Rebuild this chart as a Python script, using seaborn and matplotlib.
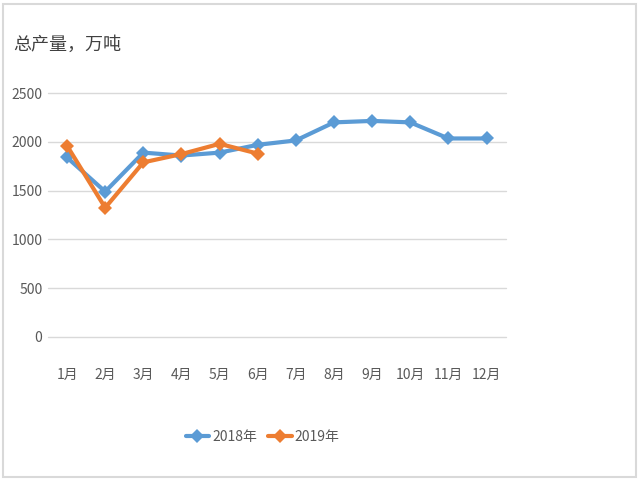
import pandas as pd
import matplotlib.pyplot as plt
import seaborn as sns

# data
months = ['1月', '2月', '3月', '4月', '5月', '6月', '7月', '8月', '9月', '10月', '11月', '12月']
output_2018 = [1840, 1490, 1890, 1860, 1890, 1970, 2015, 2200, 2215, 2200, 2035, 2035]
output_2019 = [1960, 1325, 1790, 1875, 1980, 1880]
yticks = [0, 500, 1000, 1500, 2000, 2500]

df = pd.concat([
    pd.DataFrame({'月份': months, '产量': output_2018, '年份': '2018年'}),
    pd.DataFrame({'月份': months[:len(output_2019)], '产量': output_2019, '年份': '2019年'}),
])
df['x'] = df['月份'].map({m: i for i, m in enumerate(months)})

sns.set_style('white')
plt.rcParams['font.family'] = ['Noto Sans CJK SC', 'DejaVu Sans']

fig = plt.figure(figsize=(6.4, 4.8), dpi=100)
ax = fig.add_axes([0.075, 0.298, 0.715, 0.508])

palette = {'2018年': '#5B9BD5', '2019年': '#ED7D31'}
sns.lineplot(data=df, x='x', y='产量', hue='年份', palette=palette, marker='D',
             markersize=7, markeredgewidth=0, linewidth=3, ax=ax, legend=True, sort=False)

ax.set_xlim(-0.5, 11.5)
ax.set_ylim(0, 2500)
ax.set_xticks(range(len(months)))
ax.set_xticklabels(months)
ax.set_yticks(yticks)
ax.yaxis.grid(True, color='#D9D9D9', linewidth=1)
for gl in ax.get_ygridlines():
    gl.set_clip_on(False)
ax.set_axisbelow(True)
for s in ax.spines.values():
    s.set_visible(False)
ax.tick_params(axis='both', length=0, labelsize=10, labelcolor='#595959')
ax.tick_params(axis='x', pad=22)
ax.tick_params(axis='y', pad=4)
ax.set_xlabel('')
ax.set_ylabel('')

handles, labels = ax.get_legend_handles_labels()
ax.legend(handles, labels, loc='center', bbox_to_anchor=(0.41, 0.09), bbox_transform=fig.transFigure,
          ncol=2, frameon=False, fontsize=10, labelcolor='#595959', handlelength=1.7,
          columnspacing=0.8, handletextpad=0.2)

fig.text(0.02, 0.906, '总产量，万吨', fontsize=13, color='#404040', va='center')

# light frame around the picture
fig.patches.append(plt.Rectangle((0.004, 0.006), 0.99, 0.985, transform=fig.transFigure,
                                 fill=False, edgecolor='#D9D9D9', linewidth=1.5))

fig.savefig('out.png', dpi=100)
